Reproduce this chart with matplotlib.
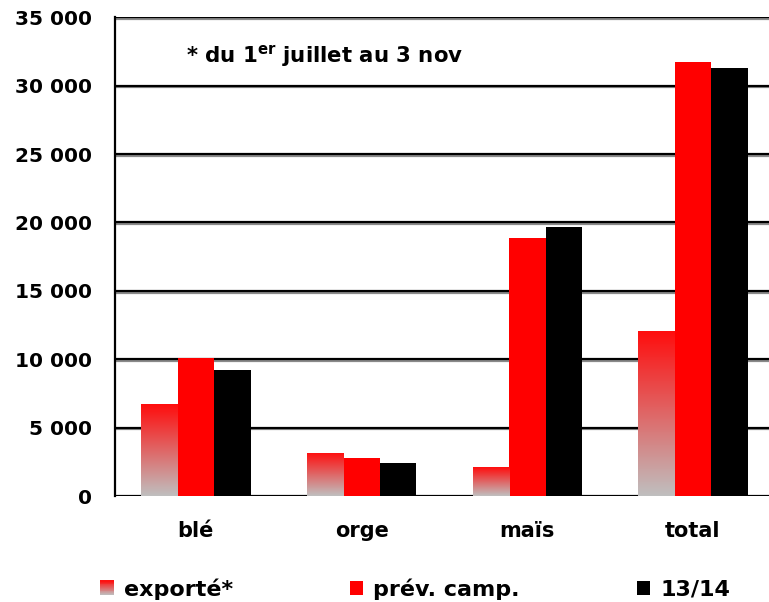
import numpy as np
import matplotlib
matplotlib.use("Agg")
import matplotlib.pyplot as plt
import matplotlib.patheffects as pe
from matplotlib.patches import Rectangle
from matplotlib.legend_handler import HandlerBase
from matplotlib.ticker import FuncFormatter, MultipleLocator

categories = ["blé", "orge", "maïs", "total"]
exporte = [6700, 3150, 2100, 12100]
prev_camp = [10100, 2800, 18900, 31700]
campagne_1314 = [9200, 2400, 19650, 31300]
series_labels = ["exporté*", "prév. camp.", "13/14"]
note = r"* du 1$^{\mathbf{er}}$ juillet au 3 nov"

plt.rcParams['font.family'] = ['DejaVu Sans']
plt.rcParams['font.weight'] = 'bold'
plt.rcParams['mathtext.fontset'] = 'dejavusans'

RED = np.array([1.0, 0.05, 0.05])
GRAY = np.array([0.75, 0.75, 0.75])

def gradient_array(n=256):
    t = np.linspace(0, 1, n)[:, None]  # 0 bottom -> 1 top
    cols = GRAY[None, :] * (1 - t) + RED[None, :] * t
    return cols[:, None, :]

fig = plt.figure(figsize=(7.69, 6.02), dpi=100)
ax = fig.add_axes([115 / 769, 106 / 602, 664 / 769, 478.7 / 602])

x = np.arange(len(categories))
w = 0.22
shadow = [pe.SimpleLineShadow(offset=(0, -1.3), shadow_color='#8a8a8a', alpha=1.0), pe.Normal()]

b1 = ax.bar(x - w, exporte, width=w, color='none', edgecolor='none', zorder=3)
b2 = ax.bar(x, prev_camp, width=w, color='#ff0000', edgecolor='none', zorder=3)
b3 = ax.bar(x + w, campagne_1314, width=w, color='#000000', edgecolor='none', zorder=3)

grad = gradient_array()
for p in b1.patches:
    x0, y0 = p.get_x(), p.get_y()
    ww, hh = p.get_width(), p.get_height()
    im = ax.imshow(grad, extent=[x0, x0 + ww, y0, y0 + hh], origin='lower',
                   aspect='auto', zorder=3, interpolation='bilinear')
    im.set_clip_path(p)

ax.set_xlim(-0.488, 3.519)
ax.set_ylim(0, 35000)
ax.yaxis.set_major_locator(MultipleLocator(5000))
ax.yaxis.set_major_formatter(FuncFormatter(lambda v, pos: f"{int(v):,}".replace(",", " ")))
ax.set_xticks(x)
ax.set_xticklabels(categories)

ax.set_axisbelow(True)
ax.yaxis.grid(True, color='black', linewidth=1.6, path_effects=shadow, zorder=1)
ax.xaxis.grid(False)
for s in ['top', 'right', 'bottom']:
    ax.spines[s].set_visible(False)
ax.spines['left'].set_color('black')
ax.spines['left'].set_linewidth(1.6)

ax.tick_params(axis='y', length=0, pad=16.5, labelsize=14.5)
ax.tick_params(axis='x', length=0, pad=18, labelsize=15)
for lab in ax.get_xticklabels() + ax.get_yticklabels():
    lab.set_fontweight('bold')

ax.text(0.107, 0.918, note, transform=ax.transAxes, fontsize=15.3, fontweight='bold',
        ha='left', va='center')


class GradientHandler(HandlerBase):
    def create_artists(self, legend, orig_handle, xdescent, ydescent, width, height,
                       fontsize, trans):
        n = 16
        arts = []
        for i in range(n):
            t = (i + 0.5) / n
            c = GRAY * (1 - t) + RED * t
            r = Rectangle((-xdescent, -ydescent + height * i / n), width, height / n + 0.3,
                          facecolor=c, edgecolor='none', transform=trans)
            arts.append(r)
        return arts


h1 = Rectangle((0, 0), 1, 1, facecolor='none')
h2 = Rectangle((0, 0), 1, 1, facecolor='#ff0000', edgecolor='none')
h3 = Rectangle((0, 0), 1, 1, facecolor='#000000', edgecolor='none')

leg = fig.legend([h1, h2, h3], series_labels, loc='center left',
                 bbox_to_anchor=(100 / 769, (602 - 589) / 602), ncol=3, frameon=False,
                 handlelength=0.62, handleheight=0.6, handletextpad=0.45,
                 columnspacing=5.25, borderpad=0, borderaxespad=0,
                 handler_map={h1: GradientHandler()},
                 prop={'weight': 'bold', 'size': 16})

fig.savefig("out.png", dpi=100)
